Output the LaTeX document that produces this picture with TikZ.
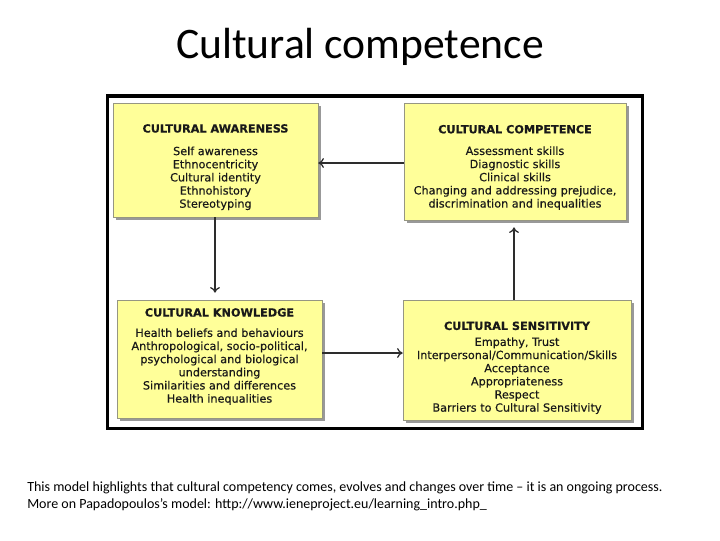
\documentclass[tikz,border=0pt]{standalone}
\usepackage{fontspec}
\setmainfont{DejaVu Sans}
\newfontfamily\calibri{Carlito}
\newfontfamily\boxfont{DejaVu Sans}[FakeBold=0.35]
\usetikzlibrary{positioning}
\usetikzlibrary{arrows.meta}
\usetikzlibrary{shadows}
\definecolor{boxyellow}{RGB}{255, 255, 153}
\definecolor{boxedge}{RGB}{150, 150, 130}
\definecolor{arrowgray}{RGB}{45, 45, 45}
\tikzset{
stagebox/.style 2 args={
	draw=boxedge, fill=boxyellow, thin,
	minimum width=#1, minimum height=#2,
	drop shadow={shadow xshift=2pt, shadow yshift=-2pt, fill=gray!80, opacity=1}
},
stagetext/.style={
	align=center, inner sep=0pt, text=black!90,
	font=\boxfont\fontsize{8}{9.35}\selectfont
},
flow/.style={-{To[length=4pt,width=7pt]}, arrowgray, line width=0.9pt},
}
\newcommand{\stagehead}[2]{{\bfseries #1}\\[#2]}

\begin{document}
\begin{tikzpicture}[x=0.025cm, y=-0.025cm]
\useasboundingbox (0,0) rectangle (720,540);
%Title and frame
\node[font=\calibri\fontsize{31}{35}\selectfont] (title) at (360,47) {Cultural competence};
\draw[line width=2.2pt] (107.5,96) rectangle (642.5,428.5);

%Place the boxes
\node[stagebox={5.125cm}{2.85cm}] (aware) at (215.5,160) {};
\node[stagebox={5.55cm}{2.925cm}] (compet) at (515,161.5) {};
\node[stagebox={5.125cm}{2.95cm}] (know) at (219.5,359) {};
\node[stagebox={5.7cm}{3cm}] (sensit) at (517,360) {};

%and their texts
\node[stagetext, below=0.53cm of aware.north] (awaretxt) {\stagehead{CULTURAL AWARENESS}{6.7pt}Self awareness\\Ethnocentricity\\Cultural identity\\Ethnohistory\\Stereotyping};
\node[stagetext, below=0.55cm of compet.north] (compettxt) {\stagehead{CULTURAL COMPETENCE}{6pt}Assessment skills\\Diagnostic skills\\Clinical skills\\Changing and addressing prejudice,\\discrimination and inequalities};
\node[stagetext, below=0.205cm of know.north] (knowtxt) {\stagehead{CULTURAL KNOWLEDGE}{5.1pt}Health beliefs and behaviours\\Anthropological, socio-political,\\psychological and biological\\understanding\\Similarities and differences\\Health inequalities};
\node[stagetext, below=0.54cm of sensit.north] (sensittxt) {\stagehead{CULTURAL SENSITIVITY}{2pt}Empathy, Trust\\Interpersonal/Communication/Skills\\Acceptance\\Appropriateness\\Respect\\Barriers to Cultural Sensitivity};

%The cycle
\draw[flow] (compet.west |- 0,163) -- (aware.east |- 0,163);
\draw[flow] (aware.south -| 215,0) -- ([yshift=5pt]know.north -| 215,0);
\draw[flow] (know.east |- 0,353) -- (sensit.west |- 0,353);
\draw[flow] (sensit.north -| 514,0) -- ([yshift=-5pt]compet.south -| 514,0);

%Caption
\node[anchor=north west, align=left, inner sep=0pt, font=\calibri\fontsize{9.95}{12.2}\selectfont] (caption) at (27,481) {This model highlights that cultural competency comes, evolves and changes over time – it is an ongoing process.\\More on Papadopoulos’s model: http://www.ieneproject.eu/learning\_intro.php\_};
\end{tikzpicture}
\end{document}
